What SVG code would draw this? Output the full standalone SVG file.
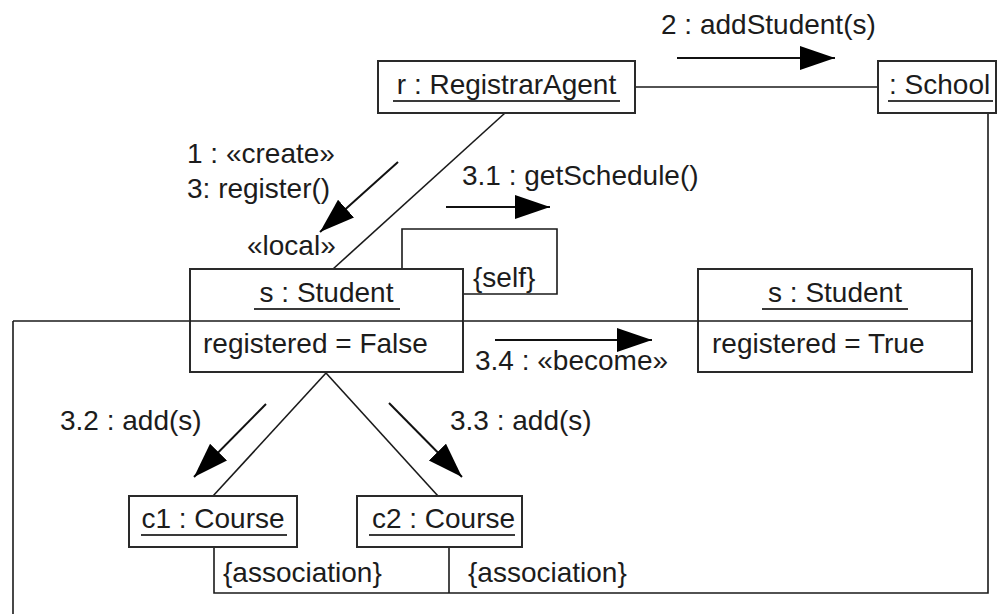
<svg xmlns="http://www.w3.org/2000/svg" width="998" height="614" viewBox="0 0 998 614">
<style>
  text { font-family: "Liberation Sans", Arial, sans-serif; font-size: 28px; fill: #1c1c1c; }
  .box { fill: #ffffff; stroke: #2a2a2a; stroke-width: 2; }
  .ul { stroke: #3a3a3a; stroke-width: 2; }
  .link { fill: none; stroke: #1a1a1a; stroke-width: 1.6; }
  .msg { fill: none; stroke: #111; stroke-width: 2; marker-end: url(#head); }
</style>
<defs>
  <marker id="head" markerUnits="userSpaceOnUse" markerWidth="36" markerHeight="26" refX="35" refY="12" orient="auto">
    <path d="M0,0 L35,12 L0,24 z" fill="#000"/>
  </marker>
</defs>
<rect width="998" height="614" fill="#ffffff"/>

<g id="connectors">
  <line class="link" x1="635" y1="87" x2="878" y2="87"/>
  <line class="link" x1="333" y1="269" x2="505" y2="113"/>
  <path class="link" d="M402,269 V229 H557 V294 H463"/>
  <line class="link" x1="13" y1="321" x2="190" y2="321"/>
  <line class="link" x1="463" y1="321" x2="698" y2="321"/>
  <line class="link" x1="13" y1="321" x2="13" y2="614"/>
  <line class="link" x1="326" y1="373" x2="213" y2="496"/>
  <line class="link" x1="326" y1="373" x2="438" y2="496"/>
  <path class="link" d="M214,547 V593 H988 V113"/>
  <line class="link" x1="449" y1="547" x2="449" y2="593"/>

  <line class="msg" x1="677" y1="58" x2="835" y2="58"/>
  <line class="msg" x1="398" y1="162" x2="320" y2="232"/>
  <line class="msg" x1="446" y1="207" x2="550" y2="207"/>
  <line class="msg" x1="495" y1="340" x2="652" y2="340"/>
  <line class="msg" x1="266" y1="404" x2="194" y2="477"/>
  <line class="msg" x1="389" y1="403" x2="462" y2="477"/>

  <text x="661" y="34">2 : addStudent(s)</text>
  <text x="187" y="163">1 : «create»</text>
  <text x="187" y="198">3: register()</text>
  <text x="247" y="255">«local»</text>
  <text x="462" y="185">3.1 : getSchedule()</text>
  <text x="473" y="287">{self}</text>
  <text x="475" y="370">3.4 : «become»</text>
  <text x="60" y="430">3.2 : add(s)</text>
  <text x="450" y="430">3.3 : add(s)</text>
  <text x="223" y="582">{association}</text>
  <text x="468" y="582">{association}</text>
</g>

<g id="registrar">
  <rect class="box" x="378" y="61" width="257" height="52"/>
  <text x="506.5" y="94" text-anchor="middle">r : RegistrarAgent</text>
  <line class="ul" x1="393" y1="101" x2="620" y2="101"/>
</g>

<g id="school">
  <rect class="box" x="878" y="61" width="118" height="52"/>
  <text x="889" y="94">: School</text>
  <line class="ul" x1="888" y1="101" x2="993" y2="101"/>
</g>

<g id="student">
  <rect class="box" x="190" y="269" width="273" height="103"/>
  <line class="link" x1="190" y1="321" x2="463" y2="321"/>
  <text x="326.5" y="302" text-anchor="middle">s : Student</text>
  <line class="ul" x1="254" y1="309" x2="400" y2="309"/>
  <text x="203" y="353">registered = False</text>
</g>

<g id="student-new">
  <rect class="box" x="698" y="269" width="274" height="103"/>
  <line class="link" x1="698" y1="321" x2="972" y2="321"/>
  <text x="835" y="302" text-anchor="middle">s : Student</text>
  <line class="ul" x1="762" y1="309" x2="908" y2="309"/>
  <text x="712" y="353">registered = True</text>
</g>

<g id="c1">
  <rect class="box" x="129" y="496" width="168" height="51"/>
  <text x="213" y="528" text-anchor="middle">c1 : Course</text>
  <line class="ul" x1="141" y1="535" x2="287" y2="535"/>
</g>

<g id="c2">
  <rect class="box" x="357" y="496" width="165" height="51"/>
  <text x="443.5" y="528" text-anchor="middle">c2 : Course</text>
  <line class="ul" x1="369" y1="535" x2="515" y2="535"/>
</g>
</svg>
